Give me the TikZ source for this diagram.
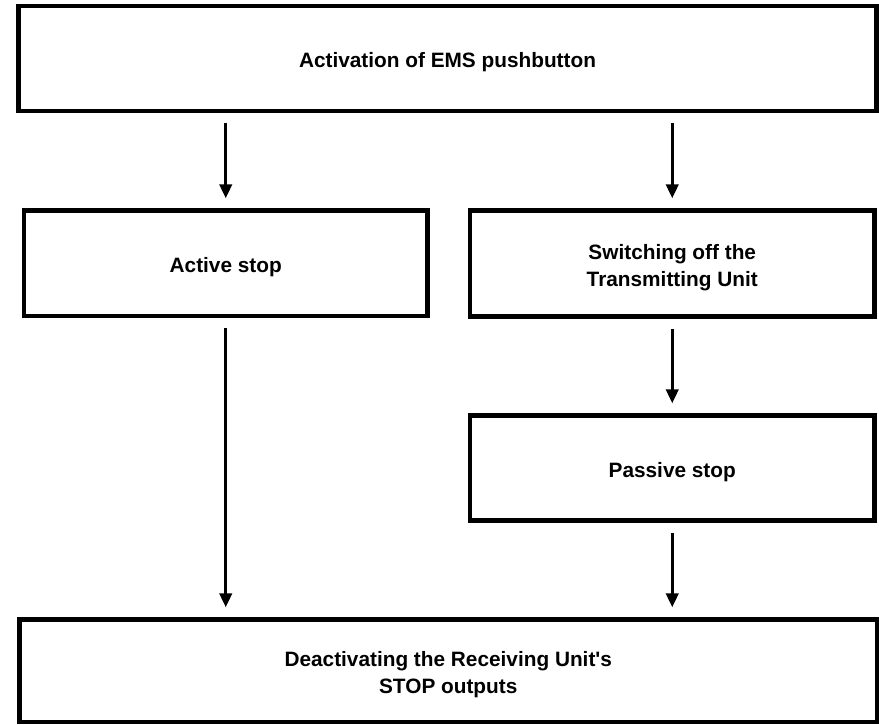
\documentclass[tikz,border=0pt]{standalone}
\usepackage{fontspec}
\setmainfont{Liberation Sans}[Ligatures=TeXOff]
\usetikzlibrary{arrows.meta}
\newcommand{\liftline}{\rule{0pt}{23pt}}
\begin{document}
\begin{tikzpicture}[x=1pt,y=-1pt,
  box/.style={draw=black,line width=4.5pt,fill=white,inner sep=0pt,align=center,
    font=\bfseries\fontsize{20.8}{26.5}\selectfont},
  one/.style={text height=18pt,text depth=0pt},
  arr/.style={draw=black,line width=2.8pt,-{Triangle[length=14pt,width=12.5pt]}}]
\useasboundingbox (0,0) rectangle (879,724);
\node[box,one,minimum width=858pt,minimum height=105pt] (top) at (447.5,58.5) {Activation of EMS pushbutton};
\node[box,one,minimum width=403.5pt,minimum height=105.5pt] (act) at (225.75,263.25) {Active stop};
\node[box,minimum width=404.5pt,minimum height=106pt] (sw) at (672.25,263.5) {\liftline Switching off the\\Transmitting Unit};
\node[box,one,minimum width=404.5pt,minimum height=105pt] (pas) at (672.25,468) {Passive stop};
\node[box,minimum width=857.5pt,minimum height=102.5pt] (bot) at (448.25,670.75) {\liftline Deactivating the Receiving Unit's\\STOP outputs};
\draw[arr,shorten <=10pt,shorten >=10pt] (act.north |- top.south) -- (act.north);
\draw[arr,shorten <=10pt,shorten >=10pt] (sw.north |- top.south) -- (sw.north);
\draw[arr,shorten <=10pt,shorten >=10pt] (sw.south) -- (pas.north);
\draw[arr,shorten <=10pt,shorten >=10pt] (act.south) -- (act.south |- bot.north);
\draw[arr,shorten <=10pt,shorten >=10pt] (pas.south) -- (pas.south |- bot.north);
\end{tikzpicture}
\end{document}
